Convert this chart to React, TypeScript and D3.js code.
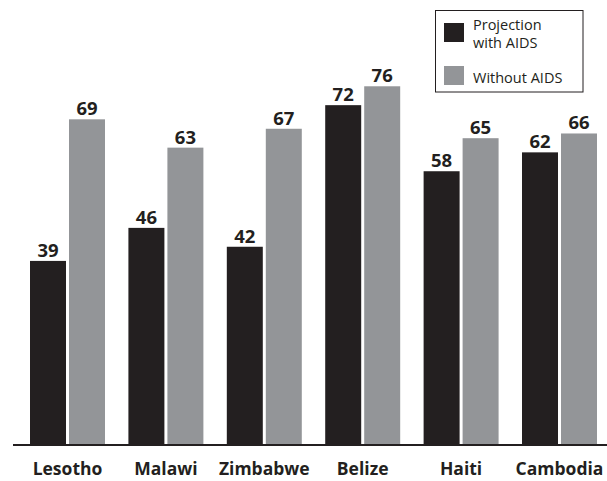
import React from "react";
import * as d3 from "d3";

const countries = ["Lesotho", "Malawi", "Zimbabwe", "Belize", "Haiti", "Cambodia"];
const withAids = [39, 46, 42, 72, 58, 62];
const withoutAids = [69, 63, 67, 76, 65, 66];
const seriesKeys = ["with", "without"];
const seriesLabels = [["Projection", "with AIDS"], ["Without AIDS"]];
const seriesColors = ["#231f20", "#939598"];

const W = 607;
const H = 481;
const FONT = "'Open Sans', 'Noto Sans', sans-serif";

export default function App() {
  const x0 = d3
    .scaleBand<string>()
    .domain(countries)
    .range([18.3, 608.7])
    .paddingInner(0.238)
    .paddingOuter(0.119);
  const x1 = d3
    .scaleBand<string>()
    .domain(seriesKeys)
    .range([0, x0.bandwidth()])
    .paddingInner(0.077);
  const y = d3.scaleLinear().domain([0, 80]).range([445, 445 - 80 * 4.72]);

  const series = [withAids, withoutAids];

  return (
    <svg
      width={W}
      height={H}
      style={{ position: "absolute", left: 0, top: 0, background: "#fff" }}
    >
      {countries.map((c, i) => (
        <g key={c} transform={`translate(${x0(c)},0)`}>
          {seriesKeys.map((k, s) => {
            const v = series[s][i];
            const bx = x1(k)!;
            return (
              <g key={k}>
                <rect
                  x={bx}
                  y={y(v)}
                  width={x1.bandwidth()}
                  height={y(0) - y(v)}
                  fill={seriesColors[s]}
                />
                <text
                  x={bx + x1.bandwidth() / 2}
                  y={y(v) - 4}
                  textAnchor="middle"
                  fontFamily={FONT}
                  fontWeight={700}
                  fontSize={18.5}
                  fill="#231f20"
                >
                  {v}
                </text>
              </g>
            );
          })}
          <text
            x={x0.bandwidth() / 2}
            y={475}
            textAnchor="middle"
            fontFamily={FONT}
            fontWeight={700}
            fontSize={17.5}
            fill="#231f20"
          >
            {c}
          </text>
        </g>
      ))}
      <line x1={13} x2={W} y1={y(0)} y2={y(0)} stroke="#231f20" strokeWidth={2} />

      {/* legend */}
      <rect x={435.5} y={10.5} width={147.5} height={81.5} fill="#fff" stroke="#231f20" strokeWidth={1} />
      {seriesKeys.map((k, s) => (
        <g key={k} transform={`translate(444,${s === 0 ? 23 : 66})`}>
          <rect width={20} height={19} fill={seriesColors[s]} />
          {seriesLabels[s].map((t, j) => (
            <text
              key={t}
              x={29}
              y={seriesLabels[s].length === 2 ? 7 + j * 17.5 : 17}
              fontFamily={FONT}
              fontSize={14.5}
              fill="#231f20"
            >
              {t}
            </text>
          ))}
        </g>
      ))}
    </svg>
  );
}
